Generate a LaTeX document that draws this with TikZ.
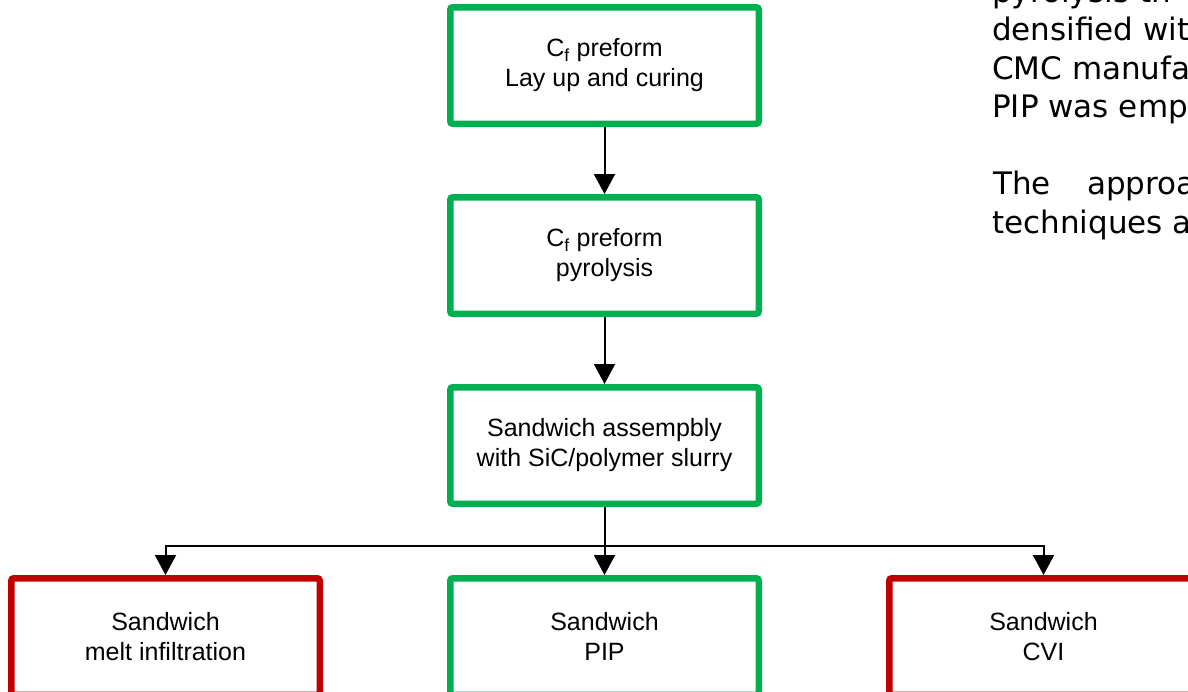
\documentclass[tikz,border=0pt]{standalone}
\usepackage{fontspec}
\setmainfont{Liberation Sans}
\newfontfamily\verdfont{DejaVu Sans}
\usetikzlibrary{arrows.meta}
\definecolor{boxgreen}{RGB}{0,176,80}
\definecolor{boxred}{RGB}{192,0,0}
\tikzset{
  procbox/.style={draw=boxgreen, line width=6.5pt, rounded corners=2.5pt, fill=white,
    minimum width=308.5pt, minimum height=116.5pt, inner sep=0pt, align=center,
    font=\fontsize{25}{30}\selectfont},
  failbox/.style={procbox, draw=boxred},
  conn/.style={draw=black, line width=2pt},
  arr/.style={conn, -{Triangle[width=21pt,length=20pt]}},
  bodytext/.style={anchor=base west, inner sep=0pt, font=\verdfont\fontsize{31}{38}\selectfont}
}
\begin{document}
\begin{tikzpicture}[x=1pt,y=-1pt]
\useasboundingbox (0,0) rectangle (1188,691);
% boxes
\node[procbox] (b1) at (604.5,65.5) {C\textsubscript{f} preform\\Lay up and curing};
\node[procbox] (b2) at (604.5,255.5) {C\textsubscript{f} preform\\pyrolysis};
\node[procbox] (b3) at (604.5,445.5) {Sandwich assempbly\\with SiC/polymer slurry};
\node[failbox] (mi) at (165.5,636.5) {Sandwich\\melt infiltration};
\node[procbox] (pip) at (604.5,636.5) {Sandwich\\PIP};
\node[failbox] (cvi) at (1043.5,636.5) {Sandwich\\CVI};
% connectors
\coordinate (jc) at (604.5,546);
\draw[arr] (b1) -- (b2);
\draw[arr] (b2) -- (b3);
\draw[arr] (b3) -- (pip);
\draw[arr] (jc) -| (mi.north);
\draw[arr] (jc) -| (cvi.north);
% body text at right (cut off by the page edge)
\node[bodytext] (t1a) at (992,2) {pyrolysis};
\node[bodytext] (t1b) at (1139,2) {th};
\node[bodytext] (t2) at (992,40.5) {densified wit};
\node[bodytext] (t3) at (992,79) {CMC manufa};
\node[bodytext] (t4) at (992,117.5) {PIP was emp};
\node[bodytext] (t5a) at (993,194.5) {The};
\node[bodytext] (t5b) at (1087,194.5) {approa};
\node[bodytext] (t6) at (992,233) {techniques a};
\end{tikzpicture}
\end{document}
